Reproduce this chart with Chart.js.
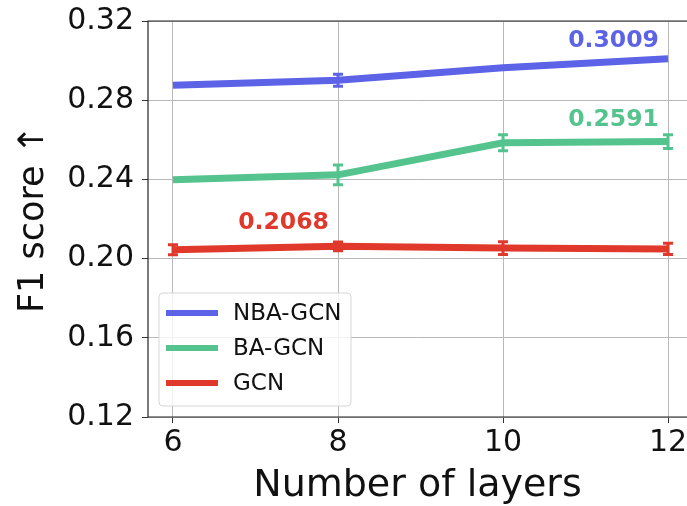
<!DOCTYPE html>
<html>
<head>
<meta charset="utf-8">
<script src="https://cdn.jsdelivr.net/npm/chart.js@4.4.1/dist/chart.umd.min.js"></script>
<style>
  html, body { margin: 0; padding: 0; background: #fff; }
  #wrap { width: 687px; height: 506px; }
</style>
</head>
<body>
<div id="wrap"><canvas id="f1Chart" width="687" height="506"></canvas></div>
<script>
// valeurs
const layers = [6, 8, 10, 12];
const xTicks = [6, 8, 10, 12];
const yTicks = [0.12, 0.16, 0.20, 0.24, 0.28, 0.32];

const seriesNames = ["NBA-GCN", "BA-GCN", "GCN"];
const nbaGcn = [0.2875, 0.2901, 0.2964, 0.3009];
const baGcn = [0.2398, 0.2423, 0.2585, 0.2591];
const gcn = [0.2045, 0.2062, 0.2053, 0.2049];

const nbaGcnErr = [0, 0.0030, 0, 0];
const baGcnErr = [0, 0.0050, 0.0040, 0.0035];
const gcnErr = [0.0025, 0.0022, 0.0032, 0.0028];

const bestLabels = ["0.3009", "0.2591", "0.2068"];

const colors = ["#5c63e6", "#55c38d", "#e0392b"];

// position des annotations (en unités des axes)
const labelPos = [
  { x: 11.34, y: 0.3102 },
  { x: 11.34, y: 0.2700 },
  { x: 7.34, y: 0.2180 },
];

function toPoints(values) {
  return values.map((v, i) => ({ x: layers[i], y: v }));
}

const allValues = [nbaGcn, baGcn, gcn];
const allErrs = [nbaGcnErr, baGcnErr, gcnErr];

// barres d'erreur
const errorBars = {
  id: "errorBars",
  afterDatasetsDraw(chart) {
    const ctx = chart.ctx;
    const xs = chart.scales.x;
    const ys = chart.scales.y;
    ctx.save();
    allValues.forEach((vals, d) => {
      ctx.strokeStyle = colors[d];
      ctx.lineWidth = 3;
      vals.forEach((v, i) => {
        const e = allErrs[d][i];
        if (!e) return;
        const px = xs.getPixelForValue(layers[i]);
        const top = ys.getPixelForValue(v + e);
        const bot = ys.getPixelForValue(v - e);
        ctx.beginPath();
        ctx.moveTo(px, top);
        ctx.lineTo(px, bot);
        ctx.moveTo(px - 5, top);
        ctx.lineTo(px + 5, top);
        ctx.moveTo(px - 5, bot);
        ctx.lineTo(px + 5, bot);
        ctx.stroke();
      });
    });
    ctx.restore();
  },
};

// cadre, étiquettes et légende
const decorations = {
  id: "decorations",
  afterDraw(chart) {
    const ctx = chart.ctx;
    const area = chart.chartArea;
    const xs = chart.scales.x;
    const ys = chart.scales.y;
    ctx.save();

    // le bord droit est coupé dans l'image d'origine
    ctx.strokeStyle = "#222";
    ctx.lineWidth = 1.2;
    ctx.beginPath();
    ctx.moveTo(chart.width, area.top);
    ctx.lineTo(area.left, area.top);
    ctx.lineTo(area.left, area.bottom);
    ctx.lineTo(chart.width, area.bottom);
    ctx.stroke();

    ctx.font = "bold 23.5px 'DejaVu Sans'";
    ctx.textAlign = "center";
    ctx.textBaseline = "middle";
    bestLabels.forEach((t, d) => {
      ctx.fillStyle = colors[d];
      ctx.fillText(t, xs.getPixelForValue(labelPos[d].x), ys.getPixelForValue(labelPos[d].y));
    });

    // légende
    const bx = area.left + 11;
    const by = area.bottom - 124;
    const bw = 192;
    const bh = 113;
    ctx.fillStyle = "rgba(255,255,255,0.8)";
    ctx.strokeStyle = "#d6d6d6";
    ctx.lineWidth = 1;
    ctx.beginPath();
    ctx.roundRect(bx, by, bw, bh, 4);
    ctx.fill();
    ctx.stroke();

    ctx.font = "23px 'DejaVu Sans'";
    ctx.textAlign = "left";
    seriesNames.forEach((name, i) => {
      const cy = by + 20 + i * 35;
      ctx.strokeStyle = colors[i];
      ctx.lineWidth = 6;
      ctx.beginPath();
      ctx.moveTo(bx + 7, cy);
      ctx.lineTo(bx + 59, cy);
      ctx.stroke();
      ctx.fillStyle = "#111";
      ctx.fillText(name, bx + 74, cy + 1);
    });
    ctx.restore();
  },
};

const ctx = document.getElementById("f1Chart").getContext("2d");

new Chart(ctx, {
  type: "line",
  data: {
    datasets: seriesNames.map((name, d) => ({
      label: name,
      data: toPoints(allValues[d]),
      borderColor: colors[d],
      backgroundColor: colors[d],
      borderWidth: 7,
      pointRadius: 0,
      tension: 0,
    })),
  },
  options: {
    responsive: false,
    animation: false,
    layout: { padding: { top: 21, right: 0, left: 0, bottom: 0 } },
    plugins: {
      legend: { display: false },
      tooltip: { enabled: false },
    },
    scales: {
      x: {
        type: "linear",
        min: 5.697,
        max: 12.23,
        afterBuildTicks: (scale) => {
          scale.ticks = xTicks.map((v) => ({ value: v }));
        },
        afterFit: (scale) => {
          scale.height = 89;
          scale.paddingLeft = 0;
          scale.paddingRight = 0;
        },
        grid: { color: "#b8b8b8", lineWidth: 1, tickLength: 6, tickColor: "#333" },
        border: { display: false },
        ticks: {
          color: "#111",
          font: { family: "DejaVu Sans", size: 30 },
          padding: 2,
          maxRotation: 0,
        },
        title: {
          display: true,
          text: "Number of layers",
          color: "#111",
          font: { family: "DejaVu Sans", size: 38 },
          padding: { top: 0, bottom: -3 },
        },
      },
      y: {
        min: 0.12,
        max: 0.32,
        afterBuildTicks: (scale) => {
          scale.ticks = yTicks.map((v) => ({ value: v }));
        },
        afterFit: (scale) => {
          scale.width = 148;
          scale.paddingTop = 0;
          scale.paddingBottom = 0;
        },
        grid: { color: "#b8b8b8", lineWidth: 1, tickLength: 6, tickColor: "#333" },
        border: { display: false },
        ticks: {
          color: "#111",
          font: { family: "DejaVu Sans", size: 30 },
          padding: 8,
          callback: (v) => v.toFixed(2),
        },
        title: {
          display: true,
          text: "F1 score ↑",
          color: "#111",
          font: { family: "DejaVu Sans", size: 35 },
          padding: { top: 13, bottom: 0 },
        },
      },
    },
  },
  plugins: [errorBars, decorations],
});
</script>
</body>
</html>
